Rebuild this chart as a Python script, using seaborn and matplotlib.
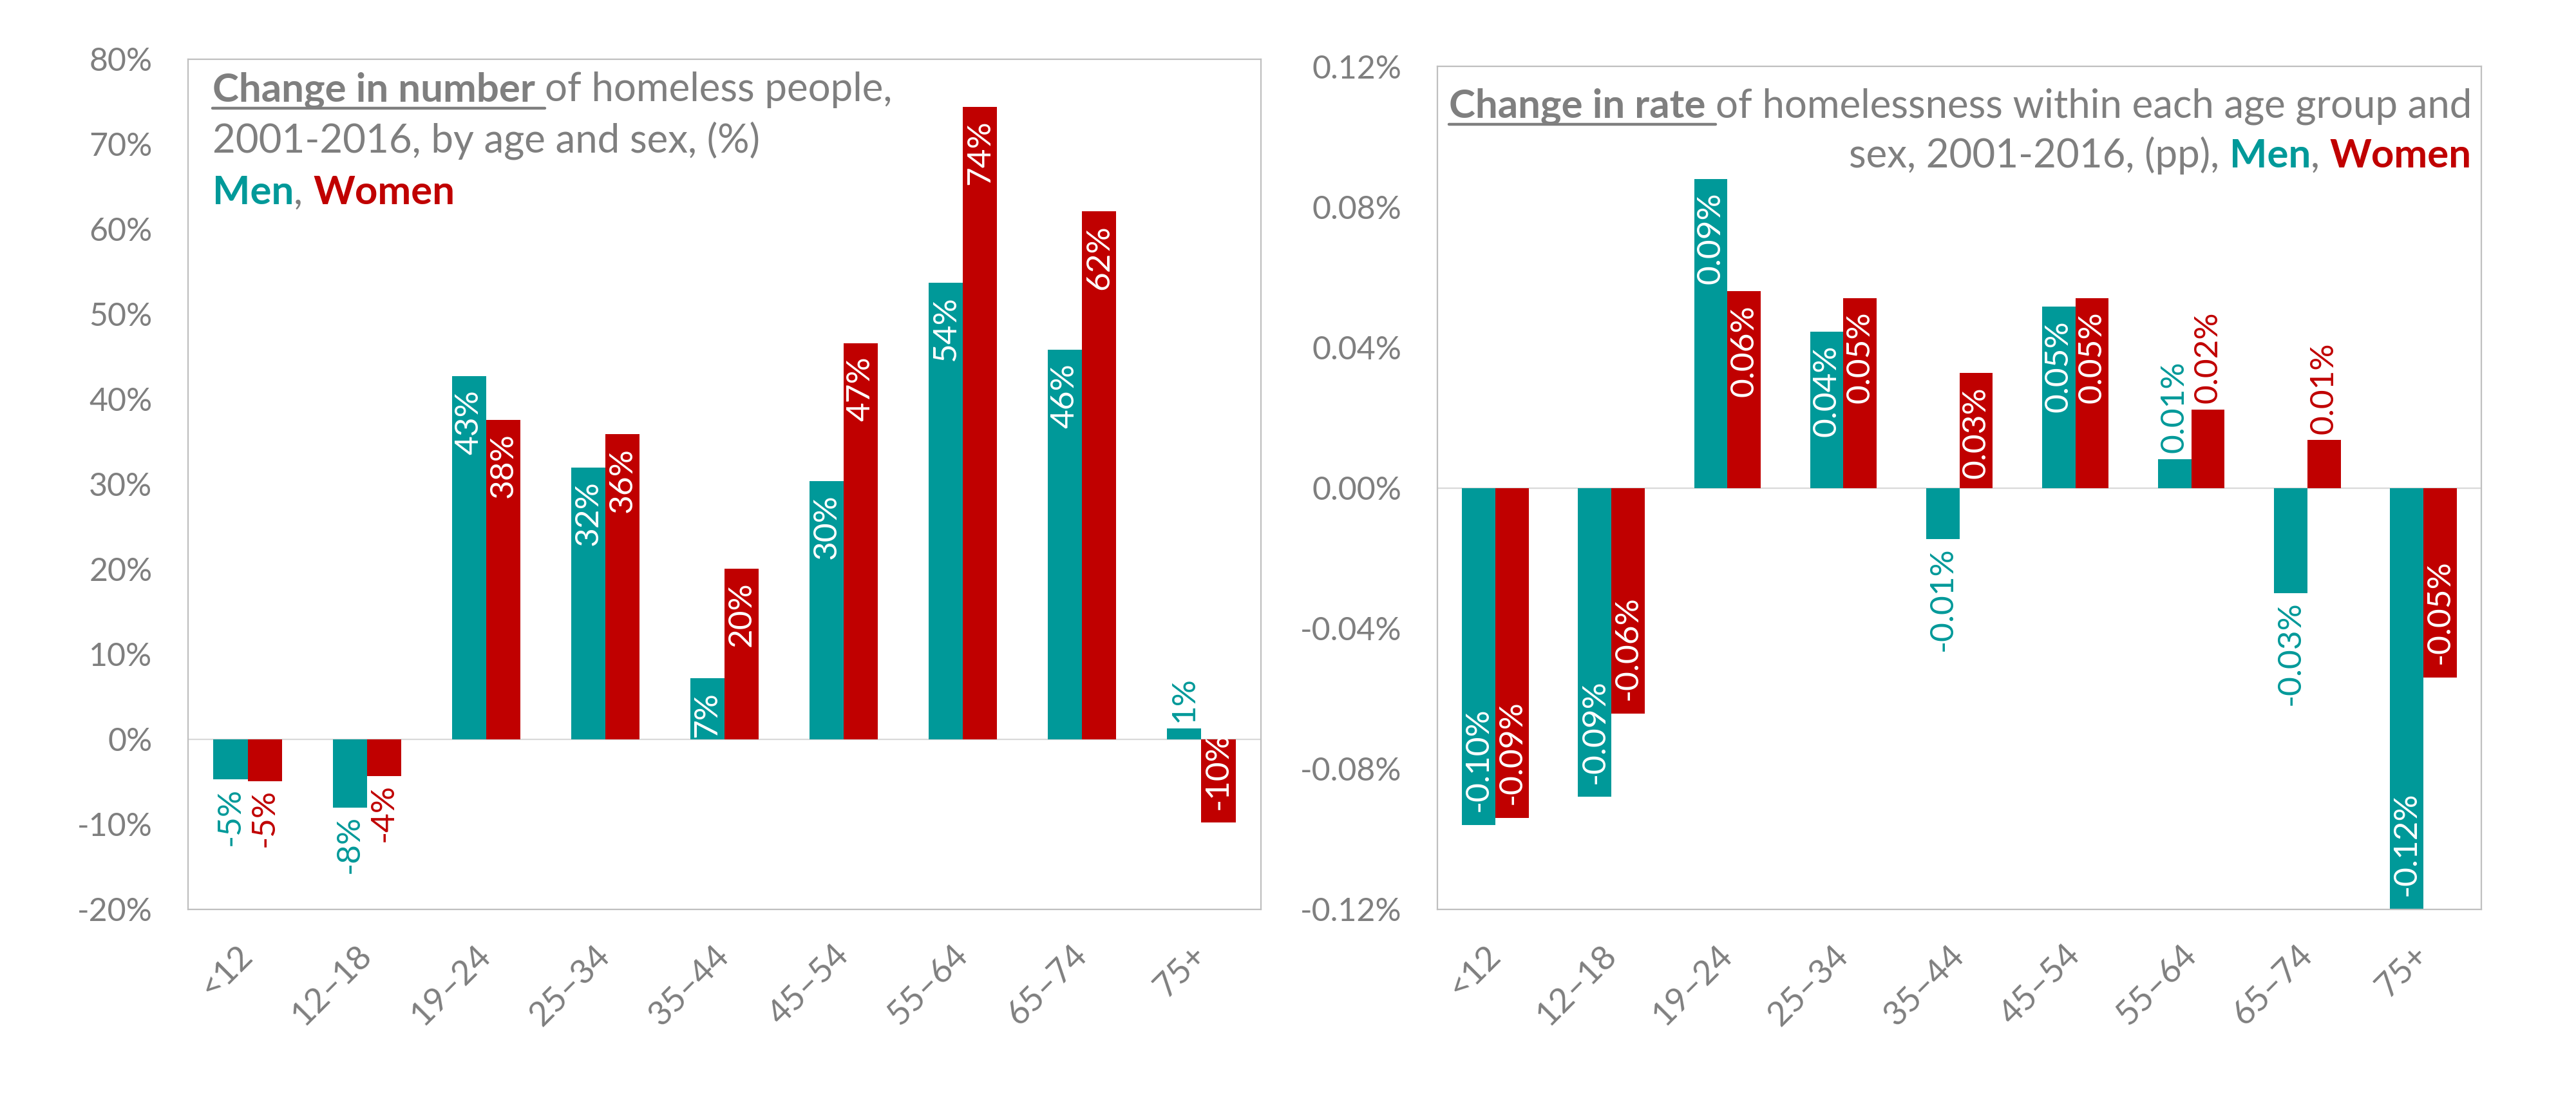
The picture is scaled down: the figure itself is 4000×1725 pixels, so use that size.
import numpy as np
import pandas as pd
import matplotlib
matplotlib.use("Agg")
import matplotlib.pyplot as plt
import seaborn as sns
from matplotlib.lines import Line2D

# ---------------- data ----------------
AGE_GROUPS = ["<12", "12–18", "19–24", "25–34", "35–44", "45–54", "55–64", "65–74", "75+"]
SEXES = ["Men", "Women"]

NUMBER_MEN = [-4.7, -8.0, 42.7, 32.0, 7.2, 30.4, 53.7, 45.8, 1.3]
NUMBER_WOMEN = [-4.9, -4.3, 37.6, 35.9, 20.1, 46.6, 74.4, 62.1, -9.8]

RATE_MEN = [-0.096, -0.088, 0.088, 0.0445, -0.0146, 0.0516, 0.0082, -0.030, -0.120]
RATE_WOMEN = [-0.094, -0.0642, 0.056, 0.054, 0.0327, 0.054, 0.0223, 0.0136, -0.054]

NUMBER_TICKS = [-20, -10, 0, 10, 20, 30, 40, 50, 60, 70, 80]
RATE_TICKS = [-0.12, -0.08, -0.04, 0.0, 0.04, 0.08, 0.12]

# data labels drawn outside the bar end (style choice)
NUMBER_OUTSIDE = {("Men", "<12"), ("Women", "<12"), ("Men", "12–18"),
                  ("Women", "12–18"), ("Men", "75+")}
RATE_OUTSIDE = {("Men", "35–44"), ("Men", "55–64"), ("Women", "55–64"),
                ("Men", "65–74"), ("Women", "65–74")}

# ---------------- style ----------------
TEAL = "#009999"
RED = "#C00000"
GRAY = "#7F7F7F"
BOX = "#BFBFBF"
ZERO = "#D9D9D9"

W, H, DPI = 4000, 1725, 100

sns.set_style("white")
plt.rcParams["font.family"] = ["Lato", "DejaVu Sans"]

fig = plt.figure(figsize=(W / DPI, H / DPI), dpi=DPI)
fig.patch.set_facecolor("white")

ax1 = fig.add_axes([292 / W, 1 - 1412 / H, (1958 - 292) / W, (1412 - 92) / H])
ax2 = fig.add_axes([2232 / W, 1 - 1412 / H, (3853 - 2232) / W, (1412 - 103) / H])

df_num = pd.DataFrame({
    "age": AGE_GROUPS * 2,
    "sex": ["Men"] * len(AGE_GROUPS) + ["Women"] * len(AGE_GROUPS),
    "value": NUMBER_MEN + NUMBER_WOMEN,
})
df_rate = pd.DataFrame({
    "age": AGE_GROUPS * 2,
    "sex": ["Men"] * len(AGE_GROUPS) + ["Women"] * len(AGE_GROUPS),
    "value": RATE_MEN + RATE_WOMEN,
})

TICK_SIZE = 36
XTICK_SIZE = 38
LABEL_SIZE = 37
TITLE_SIZE = 44.5


def draw_panel(ax, df, ticks, tick_fmt, label_fmt, outside):
    sns.barplot(data=df, x="age", y="value", hue="sex", order=AGE_GROUPS,
                hue_order=SEXES, palette=[TEAL, RED], saturation=1,
                width=0.574, gap=0, linewidth=0, legend=False, ax=ax, zorder=2)
    ax.axhline(0, color=ZERO, lw=1.6, zorder=1)
    ax.set_xlim(-0.5, len(AGE_GROUPS) - 0.5)
    ax.set_ylim(ticks[0], ticks[-1])
    ax.set_yticks(ticks)
    ax.set_yticklabels([tick_fmt(t) for t in ticks])
    ax.set_xlabel("")
    ax.set_ylabel("")
    ax.grid(False)
    for sp in ax.spines.values():
        sp.set_visible(True)
        sp.set_color(BOX)
        sp.set_linewidth(1.6)
    ax.tick_params(axis="y", length=0, pad=40, labelsize=TICK_SIZE, labelcolor=GRAY)
    ax.tick_params(axis="x", length=0, pad=46, labelsize=XTICK_SIZE, labelcolor=GRAY)
    for lab in ax.get_xticklabels():
        lab.set_rotation(45)
        lab.set_rotation_mode("anchor")
        lab.set_ha("right")
        lab.set_va("center")

    # data labels
    for sex, container, col in zip(SEXES, ax.containers, [TEAL, RED]):
        for age, bar in zip(AGE_GROUPS, container):
            v = bar.get_y() + bar.get_height()
            x = bar.get_x() + bar.get_width() / 2
            is_out = (sex, age) in outside
            if is_out:
                off = 7 if v > 0 else -9
                va = "bottom" if v > 0 else "top"
                color = col
            else:
                off = -15 if v > 0 else 15
                va = "top" if v > 0 else "bottom"
                color = "white"
            ax.annotate(label_fmt(v), (x, v), xytext=(0, off), textcoords="offset points",
                        rotation=90, ha="center", va=va, color=color,
                        fontsize=LABEL_SIZE, zorder=5, annotation_clip=False)


draw_panel(ax1, df_num, NUMBER_TICKS, lambda t: f"{t:.0f}%", lambda v: f"{v:.0f}%", NUMBER_OUTSIDE)
draw_panel(ax2, df_rate, RATE_TICKS, lambda t: f"{t:.2f}%", lambda v: f"{v:.2f}%", RATE_OUTSIDE)

# ---------------- rich titles ----------------
renderer = fig.canvas.get_renderer()


def advance(txt, weight, size):
    t1 = fig.text(0, 0, "|" + txt + "|", fontsize=size, fontweight=weight)
    t2 = fig.text(0, 0, "||", fontsize=size, fontweight=weight)
    w = t1.get_window_extent(renderer).width - t2.get_window_extent(renderer).width
    t1.remove()
    t2.remove()
    return w


def rich_line(pieces, x, y_base, align="left", size=TITLE_SIZE):
    widths = [advance(p[0], p[1], size) for p in pieces]
    total = sum(widths)
    x0 = x if align == "left" else x - total
    for (txt, weight, color, underline), w in zip(pieces, widths):
        fig.text(x0 / W, 1 - y_base / H, txt, fontsize=size, fontweight=weight,
                 color=color, ha="left", va="baseline")
        if underline:
            yl = 1 - (y_base + 11) / H
            fig.add_artist(Line2D([x0 / W, (x0 + w) / W], [yl, yl], color=color, lw=3.2))
        x0 += w


LEFT_TITLE = [
    [("Change in number ", "bold", GRAY, True), ("of homeless people,", "normal", GRAY, False)],
    [("2001-2016, by age and sex, (%)", "normal", GRAY, False)],
    [("Men", "bold", TEAL, False), (", ", "normal", GRAY, False), ("Women", "bold", RED, False)],
]
RIGHT_TITLE = [
    [("Change in rate ", "bold", GRAY, True),
     ("of homelessness within each age group and", "normal", GRAY, False)],
    [("sex, 2001-2016, (pp), ", "normal", GRAY, False), ("Men", "bold", TEAL, False),
     (", ", "normal", GRAY, False), ("Women", "bold", RED, False)],
]

for line, yb in zip(LEFT_TITLE, [157, 237, 317]):
    rich_line(line, 330, yb, "left")
for line, yb in zip(RIGHT_TITLE, [182, 260]):
    rich_line(line, 3838, yb, "right")

fig.savefig("out.png", dpi=DPI, facecolor="white")
